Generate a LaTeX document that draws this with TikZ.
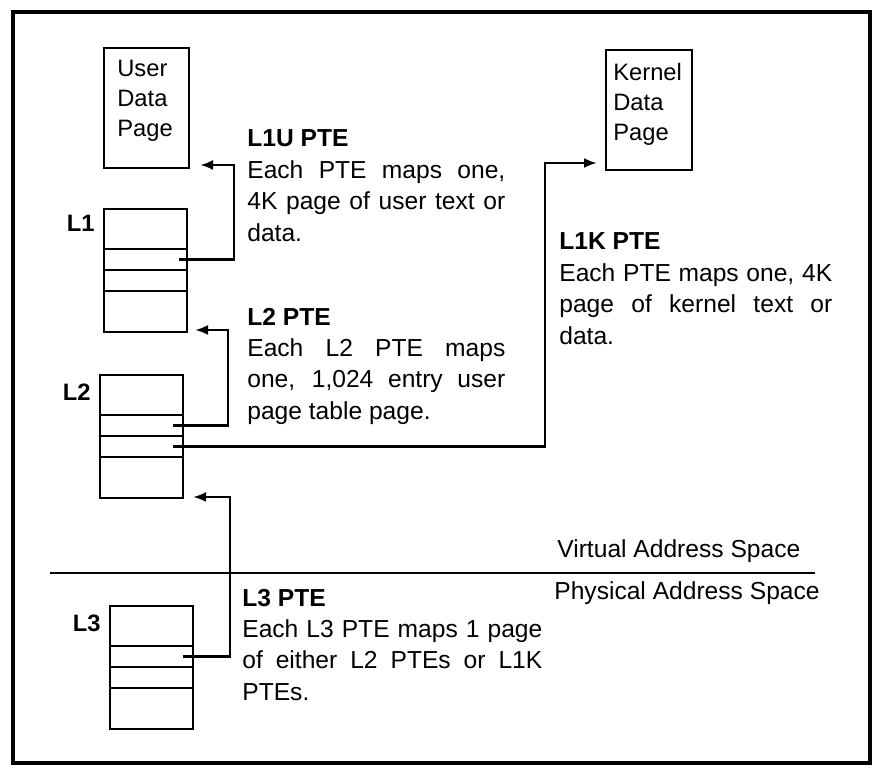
\documentclass[tikz,border=0pt]{standalone}
\usepackage{fontspec}
\setmainfont{Liberation Sans}
\usetikzlibrary{positioning,arrows.meta}
\tolerance=10000
\hbadness=10000
\tikzset{
  frame/.style   ={draw, line width=2pt},
  page/.style    ={draw, line width=1.6pt, minimum width=1.70cm,
                   minimum height=2.40cm, inner sep=0pt, outer sep=0pt,
                   anchor=north west},
  pagetxt/.style ={font=\fontsize{13.5}{17}\selectfont, align=left,
                   inner sep=0pt, anchor=north west},
  ptbl/.style    ={draw, line width=1.6pt, minimum width=1.66cm,
                   minimum height=2.46cm, inner sep=0pt, outer sep=0pt,
                   anchor=north west},
  rowline/.style ={line width=1.4pt},
  lbl/.style     ={font=\bfseries\fontsize{13.5}{16}\selectfont,
                   inner sep=0pt, anchor=north east},
  desc/.style    ={font=\fontsize{14}{17.9}\selectfont, align=justify,
                   inner sep=0pt, anchor=north west},
  spacetag/.style={font=\fontsize{14}{16}\selectfont, inner sep=0pt,
                   anchor=west},
  ar/.style      ={-{Latex[length=2.6mm,width=2mm]}, line width=1.5pt},
  divider/.style ={line width=1.5pt}
}

\begin{document}
\begin{tikzpicture}
\useasboundingbox (0,0) rectangle (17.44,15.48);
\draw[frame] (0.26,0.22) rectangle (17.40,15.24);

% data pages
\node[page] (upage) at (2.08,14.52) {};
\node[pagetxt] (utxt) at ([xshift=0.26cm,yshift=-0.24cm]upage.north west)
  {User\\Data\\Page};
\node[page, minimum width=1.72cm] (kpage) at (12.12,14.48) {};
\node[pagetxt] (ktxt) at ([xshift=0.14cm,yshift=-0.26cm]kpage.north west)
  {Kernel\\Data\\Page};

% page tables
\node[ptbl] (l1) at (2.08,11.30) {};
\node[ptbl] (l2) at (2.00,7.98) {};
\node[ptbl] (l3) at (2.20,3.36) {};
\foreach \t in {l1,l2,l3}
  \foreach \d in {0.80,1.22,1.64}
    \draw[rowline] ([yshift=-\d cm]\t.north west) -- ([yshift=-\d cm]\t.north east);
\node[lbl] (l1lbl) at ([xshift=-0.18cm,yshift=-0.12cm]l1.north west) {L1};
\node[lbl] (l2lbl) at ([xshift=-0.18cm,yshift=-0.18cm]l2.north west) {L2};
\node[lbl] (l3lbl) at ([xshift=-0.18cm,yshift=-0.18cm]l3.north west) {L3};

\coordinate (l1r2) at ([xshift=-0.16cm,yshift=-1.01cm]l1.north east);
\coordinate (l2r2) at ([xshift=-0.2cm,yshift=-1.01cm]l2.north east);
\coordinate (l2r3) at ([xshift=-0.2cm,yshift=-1.43cm]l2.north east);
\coordinate (l3r2) at ([xshift=-0.2cm,yshift=-1.01cm]l3.north east);
\coordinate (upin) at ([xshift=0.22cm,yshift=0.06cm]upage.south east);
\coordinate (l1in) at ([xshift=0.16cm,yshift=0.04cm]l1.south east);
\coordinate (l2in) at ([xshift=0.20cm,yshift=0.02cm]l2.south east);
\coordinate (kin)  at ([xshift=-0.18cm,yshift=0.14cm]kpage.south west);

\draw[ar] (l1r2) -| ([xshift=0.68cm]upin) -- (upin);
\draw[ar] (l2r2) -| ([xshift=0.66cm]l1in) -- (l1in);
\draw[ar] (l2r3) -| ([xshift=-1.04cm]kin) -- (kin);
\draw[ar] (l3r2) -| ([xshift=0.74cm]l2in) -- (l2in);

% descriptions
\node[desc, text width=5.16cm] (l1u) at (4.94,12.89)
  {\textbf{L1U PTE}\\Each PTE maps one,\linebreak
   4K page of user text or\linebreak data.};
\node[desc, text width=5.16cm] (l2d) at (4.94,9.33)
  {\textbf{L2 PTE}\\Each L2 PTE maps\linebreak
   one, 1,024 entry user\linebreak page table page.};
\node[desc, text width=5.46cm] (l1k) at (11.18,10.83)
  {\textbf{L1K PTE}\\Each PTE maps one, 4K\linebreak
   page of kernel text or\linebreak data.};
\node[desc, text width=6.00cm] (l3d) at (4.84,3.71)
  {\textbf{L3 PTE}\\Each L3 PTE maps 1 page\linebreak
   of either L2 PTEs or L1K\linebreak PTEs.};

% address spaces
\coordinate (divl) at (1.00,4.02);
\coordinate (divr) at (16.30,4.02);
\draw[divider] (divl) -- (divr);
\node[spacetag] (vas) at (11.14,4.46) {Virtual Address Space};
\node[spacetag] (pas) at (11.08,3.62) {Physical Address Space};
\end{tikzpicture}
\end{document}
